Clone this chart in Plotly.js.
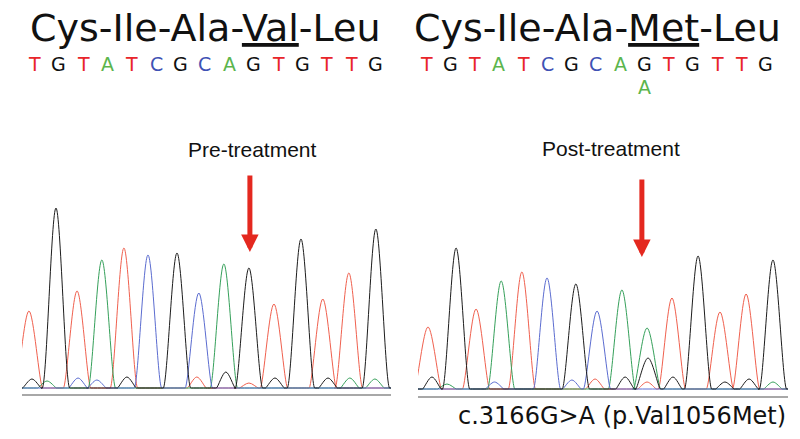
<!DOCTYPE html>
<html>
<head>
<meta charset="utf-8">
<script src="https://cdn.plot.ly/plotly-3.0.1.min.js"></script>
<style>html,body{margin:0;padding:0;background:#fff}#chart{width:800px;height:439px}</style>
</head>
<body>
<div id="chart"></div>
<script>
// called sequence and protein reading
const bases = ['T','G','T','A','T','C','G','C','A','G','T','G','T','T','G'];
const proteinPre = 'Cys-Ile-Ala-<u>Val</u>-Leu';
const proteinPost = 'Cys-Ile-Ala-<u>Met</u>-Leu';
const mutantBase = 'A';
const mutantIndex = 9;
const variantLabel = 'c.3166G>A (p.Val1056Met)';

// pre-treatment trace: main peaks (position in base units, height)
const preMainBase = bases;
const prePos = [1.00, 2.09, 2.94, 3.94, 4.83, 5.80, 6.97, 7.85, 8.86, 9.87, 10.88, 11.97, 12.85, 13.90, 14.99];
const preHeight = [77, 180, 97, 128, 140, 133, 135, 95, 124, 120, 84, 149, 89, 115, 159];
// pre-treatment background bumps
const preMinorBase = ['G','A','C','C','G','T','G','G','G','A','A','T'];
const preMinorPos = [1.12, 1.73, 2.98, 3.74, 4.95, 7.77, 8.94, 10.92, 13.06, 13.94, 14.95, 9.87];
const preMinorHeight = [9, 7, 10, 8, 11, 11, 16, 10, 10, 10, 9, 5];

// post-treatment trace: main peaks (A at the mutated site)
const postMainBase = ['T','G','T','A','T','C','G','C','A','A','T','G','T','T','G'];
const postPos = [1.00, 2.14, 2.95, 3.97, 4.81, 5.83, 7.00, 7.86, 8.87, 9.89, 10.90, 11.96, 12.85, 13.91, 15.00];
const postHeight = [62, 141, 80, 108, 117, 111, 105, 78, 99, 61, 91, 133, 77, 95, 129];
// remaining wild-type G under the A peak
const postSecondBase = ['G'];
const postSecondPos = [9.93];
const postSecondHeight = [31];
// post-treatment background bumps
const postMinorBase = ['G','A','C','C','T','G','T','G','G','G','A'];
const postMinorPos = [1.16, 1.77, 3.70, 6.84, 7.78, 9.00, 9.89, 10.94, 13.05, 14.03, 15.00];
const postMinorHeight = [12, 5, 7, 9, 10, 12, 7, 12, 7, 10, 7];

const traceColor = {A: '#35a05a', C: '#5b6cd0', G: '#1c1c1c', T: '#f0604e'};
const letterColor = {A: '#5bb54c', C: '#3f52b4', G: '#111111', T: '#e8252a'};

function addPeaks(store, b, p, h, w) {
  for (let i = 0; i < b.length; i++) {
    store[b[i]].push({x: p[i], h: h[i], w: w});
  }
}

// each peak: foot, apex, foot; a tight foot anchor keeps the flanks straight
function makeTraces(groups, xa, ya, range) {
  const out = [];
  const tight = 0.04;
  ['T', 'A', 'C', 'G'].forEach(function (base) {
    const pk = groups[base].slice().sort(function (a, b) { return a.x - b.x; });
    const xs = [range[0] - 0.6], ys = [0];
    pk.forEach(function (k) {
      xs.push(k.x - k.w - tight, k.x - k.w, k.x, k.x + k.w, k.x + k.w + tight);
      ys.push(0, 0, k.h, 0, 0);
    });
    xs.push(range[1] + 0.6); ys.push(0);
    out.push({
      type: 'scatter', mode: 'lines', x: xs, y: ys, xaxis: xa, yaxis: ya,
      line: {color: traceColor[base], width: 1, shape: 'spline', smoothing: 1},
      hoverinfo: 'skip'
    });
  });
  return out;
}

const preRange = [0.72, 15.6];
const postRange = [0.594, 15.61];

const preGroups = {A: [], C: [], G: [], T: []};
addPeaks(preGroups, preMainBase, prePos, preHeight, 0.55);
addPeaks(preGroups, preMinorBase, preMinorPos, preMinorHeight, 0.38);

const postGroups = {A: [], C: [], G: [], T: []};
addPeaks(postGroups, postMainBase, postPos, postHeight, 0.55);
addPeaks(postGroups, postSecondBase, postSecondPos, postSecondHeight, 0.5);
addPeaks(postGroups, postMinorBase, postMinorPos, postMinorHeight, 0.38);

const data = makeTraces(preGroups, 'x', 'y', preRange)
  .concat(makeTraces(postGroups, 'x2', 'y2', postRange));

const annotations = [];
const bigFont = {family: 'DejaVu Sans', size: 38, color: '#111'};
annotations.push({xref: 'paper', yref: 'paper', x: 205 / 800, y: 1 - 28 / 439, text: proteinPre,
  showarrow: false, font: bigFont, xanchor: 'center', yanchor: 'middle'});
annotations.push({xref: 'paper', yref: 'paper', x: 597 / 800, y: 1 - 28 / 439, text: proteinPost,
  showarrow: false, font: bigFont, xanchor: 'center', yanchor: 'middle'});

const seqFont = 19;
bases.forEach(function (b, i) {
  annotations.push({xref: 'paper', yref: 'paper', x: (34.2 + i * 24.4) / 800, y: 1 - 64 / 439, text: b,
    showarrow: false, xanchor: 'center', yanchor: 'middle',
    font: {family: 'DejaVu Sans', size: seqFont, color: letterColor[b]}});
  annotations.push({xref: 'paper', yref: 'paper', x: (426 + i * 24.27) / 800, y: 1 - 64 / 439, text: b,
    showarrow: false, xanchor: 'center', yanchor: 'middle',
    font: {family: 'DejaVu Sans', size: seqFont, color: letterColor[b]}});
});
annotations.push({xref: 'paper', yref: 'paper', x: (426 + mutantIndex * 24.27) / 800, y: 1 - 87 / 439,
  text: mutantBase, showarrow: false, xanchor: 'center', yanchor: 'middle',
  font: {family: 'DejaVu Sans', size: seqFont, color: letterColor[mutantBase]}});

annotations.push({xref: 'paper', yref: 'paper', x: 252 / 800, y: 1 - 149 / 439, text: 'Pre-treatment',
  showarrow: false, xanchor: 'center', yanchor: 'middle',
  font: {family: 'Liberation Sans', size: 21, color: '#111'}});
annotations.push({xref: 'paper', yref: 'paper', x: 611 / 800, y: 1 - 148 / 439, text: 'Post-treatment',
  showarrow: false, xanchor: 'center', yanchor: 'middle',
  font: {family: 'Liberation Sans', size: 21, color: '#111'}});
annotations.push({xref: 'paper', yref: 'paper', x: 622 / 800, y: 1 - 416 / 439, text: variantLabel,
  showarrow: false, xanchor: 'center', yanchor: 'middle',
  font: {family: 'DejaVu Sans', size: 24, color: '#111'}});

// arrows pointing at the mutated position
annotations.push({xref: 'x', yref: 'y', x: 9.91, y: 136, ax: 0, ay: -78, text: '', showarrow: true,
  arrowhead: 2, arrowsize: 0.7, arrowwidth: 5, arrowcolor: '#e4281f', standoff: 0});
annotations.push({xref: 'x2', yref: 'y2', x: 9.68, y: 132, ax: 0, ay: -79, text: '', showarrow: true,
  arrowhead: 2, arrowsize: 0.7, arrowwidth: 5, arrowcolor: '#e4281f', standoff: 0});

const axBase = {showgrid: false, zeroline: false, showticklabels: false, ticks: '',
  showline: true, linecolor: '#a8a8a8', linewidth: 1.5, fixedrange: true};

const layout = {
  width: 800, height: 439,
  margin: {l: 0, r: 0, t: 0, b: 0},
  paper_bgcolor: '#fff', plot_bgcolor: '#fff',
  showlegend: false,
  xaxis: Object.assign({}, axBase, {domain: [22 / 800, 391 / 800], range: preRange, anchor: 'y'}),
  yaxis: {domain: [1 - 394 / 439, 1 - 200 / 439], range: [-6, 188], visible: false, anchor: 'x'},
  xaxis2: Object.assign({}, axBase, {domain: [418 / 800, 788 / 800], range: postRange, anchor: 'y2'}),
  yaxis2: {domain: [1 - 396 / 439, 1 - 202 / 439], range: [-7, 187], visible: false, anchor: 'x2'},
  annotations: annotations
};

Plotly.newPlot('chart', data, layout, {staticPlot: true});
</script>
</body>
</html>
